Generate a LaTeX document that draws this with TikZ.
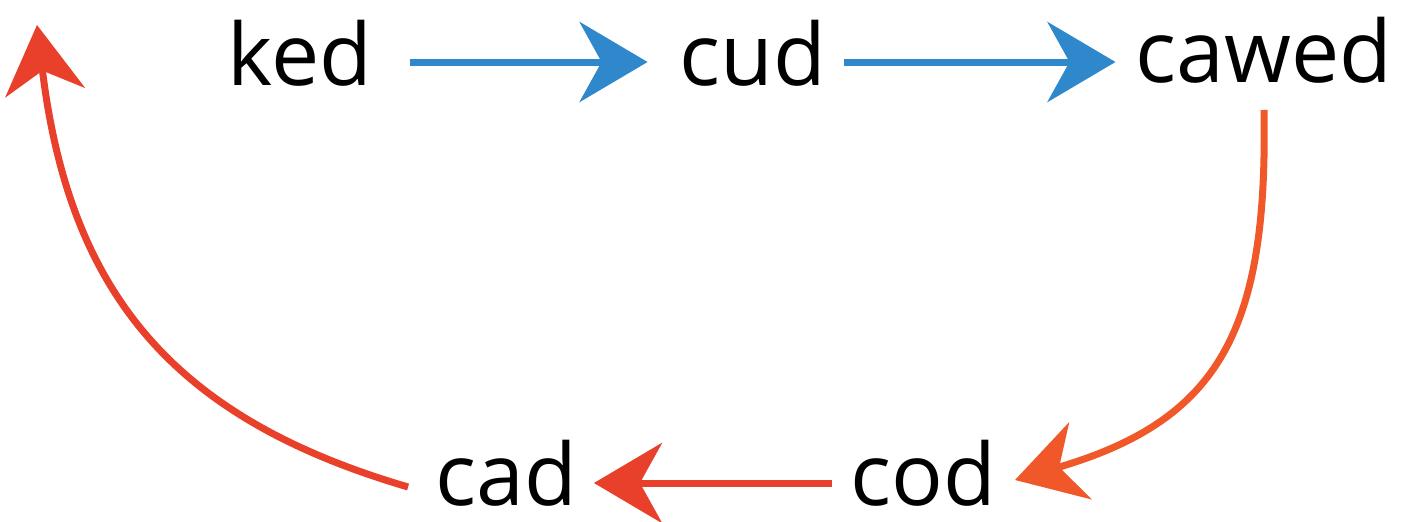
\documentclass[tikz,border=0pt]{standalone}
\usepackage{fontspec}
\setmainfont{Open Sans}
\usetikzlibrary{arrows.meta}
\definecolor{flowblue}{HTML}{2F88CB}
\definecolor{flowred}{HTML}{E8402B}
\definecolor{floworange}{HTML}{F0582A}
\tikzset{
  word/.style={inner sep=0pt, anchor=base, text depth=0pt, font=\fontsize{86}{100}\selectfont},
  tip/.style={-{Stealth[length=68pt, width=80pt, inset=22pt]}},
  blueline/.style={tip, line width=7pt, draw=flowblue},
  redline/.style={tip, line width=7pt, draw=flowred},
  orangeline/.style={tip, line width=7pt, draw=floworange},
}
\begin{document}
\begin{tikzpicture}[x=1pt, y=-1pt]
\useasboundingbox (0,0) rectangle (1406,522);
% words
\node[word] (ked)   at (300,85)  {ked};
\node[word] (cud)   at (753,85)  {cud};
\node[word] (cawed) at (1264,82) {cawed};
\node[word] (cod)   at (923,505) {cod};
\node[word] (cad)   at (506,505) {cad};
% top row
\draw[blueline] ([shift={(38pt,23pt)}]ked.base east) -- ([shift={(-32pt,23pt)}]cud.base west);
\draw[blueline] ([shift={(18pt,23pt)}]cud.base east) -- ([shift={(-20pt,20pt)}]cawed.base west);
% right bend down
\draw[orangeline] ([yshift=-28pt]cawed.base) .. controls (1268,330) and (1220,420) .. (1015,480);
% bottom row
\draw[redline] ([shift={(-18pt,22pt)}]cod.base west) -- ([shift={(17pt,22pt)}]cad.base east);
% left bend up
\draw[redline] ([shift={(-27pt,18pt)}]cad.base west) .. controls (180,420) and (70,300) .. (37,25);
\end{tikzpicture}
\end{document}
